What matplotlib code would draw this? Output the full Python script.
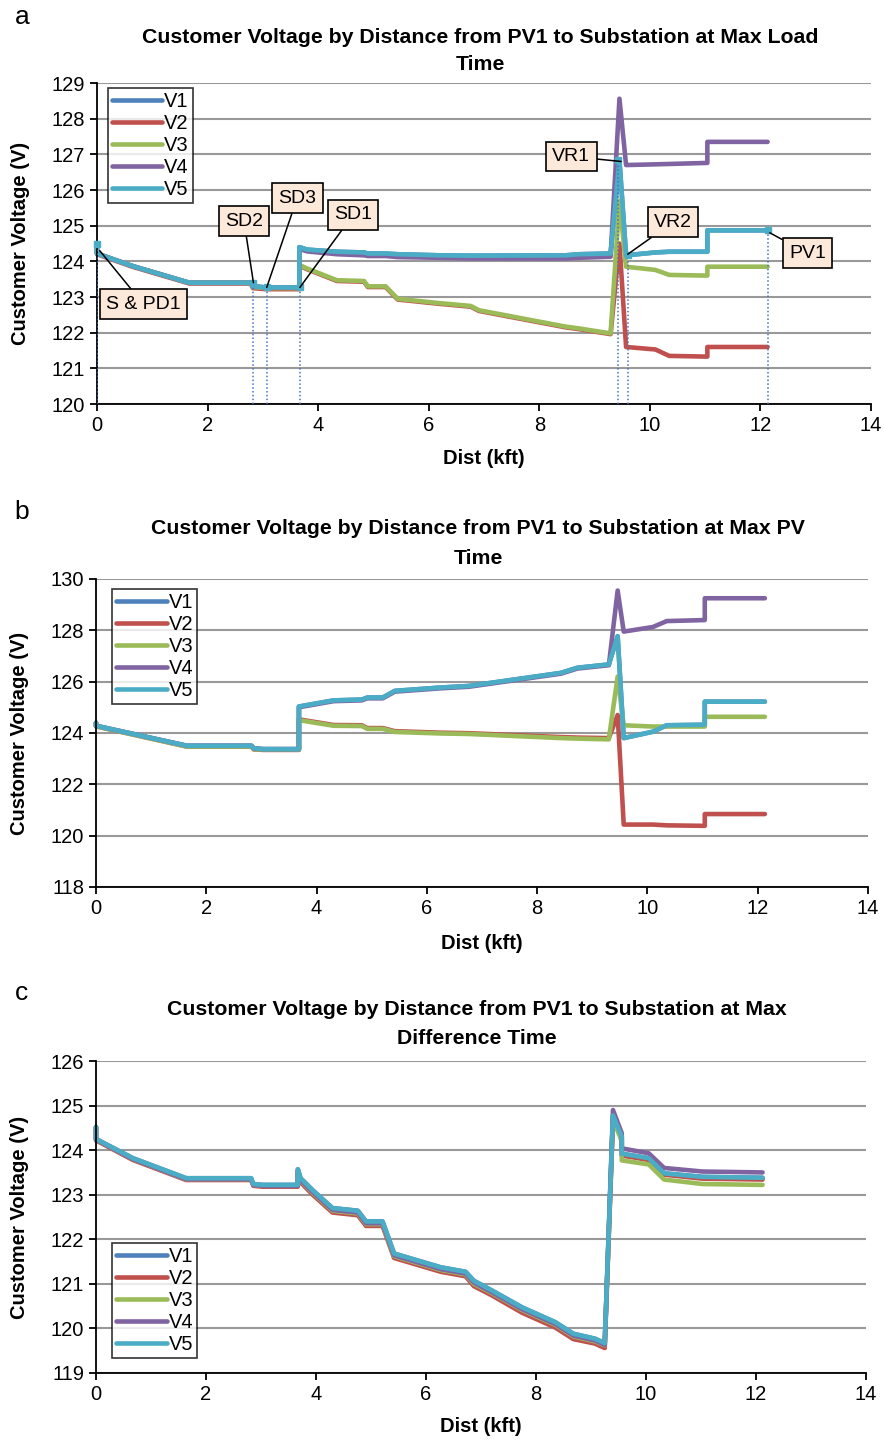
import matplotlib
matplotlib.use("Agg")
import matplotlib.pyplot as plt

plt.rcParams["font.family"] = ["Liberation Sans", "DejaVu Sans"]

SERIES = ["V1", "V2", "V3", "V4", "V5"]
COLORS = ["#4F81BD", "#C0504D", "#9BBB59", "#8064A2", "#4BACC6"]

# --- panel a: max load time ---
xa = [0, 0, 0.64, 1.67, 2.78, 2.82, 3.05, 3.66, 3.66, 3.8, 4.34, 4.83, 4.9, 5.22,
      5.44, 6.19, 6.76, 6.91, 8.48, 8.72, 9.29, 9.45, 9.57, 10.1, 10.35, 11.04, 11.04, 12.13]
v1_a = [124.5, 124.22, 123.87, 123.4, 123.4, 123.3, 123.27, 123.27, 124.4, 124.33, 124.27, 124.25,
        124.22, 124.22, 124.2, 124.17, 124.16, 124.16, 124.17, 124.2, 124.22, 126.83, 124.17,
        124.25, 124.27, 124.27, 124.87, 124.87]
v2_a = [124.5, 124.2, 123.85, 123.38, 123.38, 123.25, 123.22, 123.22, 123.88, 123.78, 123.45, 123.43,
        123.28, 123.28, 122.93, 122.81, 122.73, 122.61, 122.15, 122.1, 121.96, 124.5, 121.6,
        121.53, 121.35, 121.33, 121.6, 121.6]
v3_a = [124.5, 124.22, 123.87, 123.4, 123.4, 123.28, 123.25, 123.25, 123.9, 123.8, 123.47, 123.45,
        123.3, 123.3, 122.95, 122.83, 122.75, 122.63, 122.17, 122.12, 121.98, 125.7, 123.85,
        123.76, 123.62, 123.6, 123.85, 123.85]
v4_a = [124.5, 124.22, 123.87, 123.4, 123.4, 123.3, 123.27, 123.27, 124.35, 124.28, 124.2, 124.17,
        124.15, 124.15, 124.12, 124.1, 124.08, 124.08, 124.08, 124.1, 124.13, 128.56, 126.7,
        126.72, 126.73, 126.76, 127.35, 127.35]
v5_a = [124.5, 124.22, 123.87, 123.4, 123.4, 123.3, 123.27, 123.27, 124.4, 124.33, 124.27, 124.25,
        124.22, 124.22, 124.2, 124.17, 124.16, 124.16, 124.17, 124.2, 124.22, 126.83, 124.17,
        124.25, 124.27, 124.27, 124.87, 124.87]

# device locations marked in panel a
drop_x = [0, 2.83, 3.07, 3.67, 9.43, 9.6, 12.13]
drop_y = [124.5, 123.4, 123.27, 123.27, 126.83, 124.17, 124.87]
ann_labels = ["S & PD1", "SD2", "SD3", "SD1", "VR1", "VR2", "PV1"]
ann_point_x = [0.05, 2.83, 3.07, 3.67, 9.48, 9.6, 12.17]
ann_point_y = [124.3, 123.4, 123.27, 123.27, 126.8, 124.2, 124.8]
ann_text_x = [0.84, 2.66, 3.62, 4.63, 8.58, 10.42, 12.85]
ann_text_y = [122.8, 125.12, 125.77, 125.3, 126.94, 125.1, 124.23]

# --- panel b: max PV time ---
xb = [0, 0, 1.65, 2.82, 2.86, 3.03, 3.68, 3.68, 4.31, 4.82, 4.92, 5.2, 5.42, 6.25, 6.76,
      8.43, 8.73, 9.3, 9.46, 9.57, 10.1, 10.35, 11.04, 11.04, 12.13]
v1_b = [124.4, 124.28, 123.5, 123.5, 123.4, 123.37, 123.37, 125.03, 125.27, 125.3, 125.38, 125.38,
        125.64, 125.77, 125.83, 126.34, 126.54, 126.67, 127.77, 123.8, 124.05, 124.3, 124.32,
        125.22, 125.22]
v2_b = [124.4, 124.26, 123.47, 123.47, 123.36, 123.34, 123.34, 124.53, 124.31, 124.3, 124.19, 124.19,
        124.07, 124.01, 123.99, 123.84, 123.82, 123.8, 124.7, 120.43, 120.43, 120.4, 120.38,
        120.84, 120.84]
v3_b = [124.4, 124.26, 123.47, 123.47, 123.37, 123.35, 123.35, 124.5, 124.28, 124.27, 124.16, 124.16,
        124.04, 123.98, 123.96, 123.8, 123.78, 123.75, 126.2, 124.3, 124.25, 124.25, 124.25,
        124.63, 124.63]
v4_b = [124.4, 124.28, 123.5, 123.5, 123.4, 123.37, 123.37, 125.0, 125.24, 125.27, 125.35, 125.35,
        125.61, 125.74, 125.8, 126.31, 126.51, 126.64, 129.55, 127.95, 128.13, 128.36, 128.4,
        129.25, 129.25]
v5_b = [124.4, 124.28, 123.5, 123.5, 123.4, 123.37, 123.37, 125.03, 125.27, 125.3, 125.38, 125.38,
        125.64, 125.77, 125.83, 126.34, 126.54, 126.67, 127.77, 123.8, 124.05, 124.3, 124.32,
        125.22, 125.22]

# --- panel c: max difference time ---
xc = [0, 0, 0.67, 1.64, 2.82, 2.86, 3.03, 3.67, 3.67, 3.72, 3.94, 4.3, 4.76, 4.91, 5.21, 5.42,
      6.27, 6.72, 6.87, 7.2, 7.75, 8.35, 8.68, 9.07, 9.25, 9.4, 9.56, 9.56, 10.05, 10.33, 11.03, 12.12]
v1_c = [124.52, 124.25, 123.82, 123.37, 123.37, 123.24, 123.22, 123.22, 123.57, 123.37, 123.1, 122.7,
        122.64, 122.4, 122.4, 121.68, 121.37, 121.27, 121.07, 120.85, 120.47, 120.14, 119.88,
        119.77, 119.67, 124.78, 124.3, 123.92, 123.82, 123.48, 123.4, 123.38]
v2_c = [124.5, 124.22, 123.78, 123.33, 123.33, 123.2, 123.18, 123.18, 123.48, 123.28, 123.0, 122.6,
        122.54, 122.3, 122.3, 121.58, 121.27, 121.17, 120.95, 120.74, 120.35, 120.02, 119.76,
        119.66, 119.56, 124.7, 124.25, 123.88, 123.78, 123.45, 123.36, 123.34]
v3_c = [124.52, 124.24, 123.8, 123.35, 123.35, 123.22, 123.2, 123.2, 123.52, 123.32, 123.04, 122.64,
        122.58, 122.34, 122.34, 121.62, 121.31, 121.21, 121.0, 120.79, 120.41, 120.08, 119.82,
        119.71, 119.62, 124.7, 124.2, 123.77, 123.68, 123.34, 123.24, 123.22]
v4_c = [124.52, 124.24, 123.8, 123.35, 123.35, 123.22, 123.2, 123.2, 123.53, 123.33, 123.06, 122.66,
        122.6, 122.36, 122.36, 121.64, 121.33, 121.23, 121.03, 120.81, 120.43, 120.1, 119.84,
        119.73, 119.63, 124.9, 124.38, 124.04, 123.93, 123.6, 123.52, 123.5]
v5_c = [124.52, 124.25, 123.82, 123.37, 123.37, 123.24, 123.22, 123.22, 123.57, 123.37, 123.1, 122.7,
        122.64, 122.4, 122.4, 121.68, 121.37, 121.27, 121.07, 120.85, 120.47, 120.14, 119.88,
        119.77, 119.67, 124.78, 124.3, 123.92, 123.82, 123.48, 123.4, 123.38]

TITLES = [
    "Customer Voltage by Distance from PV1 to Substation at Max Load\nTime",
    "Customer Voltage by Distance from PV1 to Substation at Max PV\nTime",
    "Customer Voltage by Distance from PV1 to Substation at Max\nDifference Time",
]


def draw_panel(ax, x, values, ylim, ystep, title, title_pad, linespacing):
    for name, color, y in zip(SERIES, COLORS, values):
        ax.plot(x, y, color=color, lw=3.3, label=name, clip_on=False,
                solid_capstyle="round", solid_joinstyle="round")
    ax.set_xlim(0, 14)
    ax.set_ylim(*ylim)
    ax.set_xticks(range(0, 15, 2))
    ax.set_yticks(range(ylim[0], ylim[1] + 1, ystep))
    ax.yaxis.grid(True, color="#999999", lw=1.5)
    ax.set_axisbelow(True)
    for side in ("top", "right"):
        ax.spines[side].set_visible(False)
    for side in ("left", "bottom"):
        ax.spines[side].set_linewidth(1.3)
    ax.tick_params(labelsize=14.5, length=5, width=1.3, direction="out")
    ax.set_xlabel("Dist (kft)", fontsize=14.5, fontweight="bold")
    ax.set_ylabel("Customer Voltage (V)", fontsize=14.5, fontweight="bold")
    ax.yaxis.set_label_coords(-0.087, 0.5)
    ax.set_title(title, fontsize=15.3, fontweight="bold", pad=title_pad,
                 linespacing=linespacing, x=0.495)


def legend(ax, loc, anchor):
    leg = ax.legend(loc=loc, bbox_to_anchor=anchor, fontsize=14.5, frameon=True,
                    fancybox=False, borderaxespad=0, borderpad=0.2, labelspacing=0.15,
                    handlelength=2.5, handletextpad=0.1)
    leg.get_frame().set_edgecolor("black")
    leg.get_frame().set_linewidth(1.2)


def main():
    fig = plt.figure(figsize=(8.84, 14.41), dpi=100)
    ax_a = fig.add_axes([0.1097, 0.7196, 0.8756, 0.2228])
    ax_b = fig.add_axes([0.1086, 0.3845, 0.8733, 0.2137])
    ax_c = fig.add_axes([0.1086, 0.0472, 0.8710, 0.2165])

    draw_panel(ax_a, xa, [v1_a, v2_a, v3_a, v4_a, v5_a], (120, 129), 1, TITLES[0], 9.5, 1.5)
    draw_panel(ax_b, xb, [v1_b, v2_b, v3_b, v4_b, v5_b], (118, 130), 2, TITLES[1], 11, 1.7)
    draw_panel(ax_c, xc, [v1_c, v2_c, v3_c, v4_c, v5_c], (119, 126), 1, TITLES[2], 12.5, 1.65)

    ax_a.xaxis.set_label_coords(0.5, -0.14)
    ax_b.xaxis.set_label_coords(0.5, -0.152)
    ax_c.xaxis.set_label_coords(0.5, -0.14)

    legend(ax_a, "upper left", (0.014, 0.984))
    legend(ax_b, "upper left", (0.021, 0.968))
    legend(ax_c, "lower left", (0.021, 0.048))

    # device markers, drop lines and callouts on panel a
    ax_a.vlines(drop_x, 120, drop_y, colors="#4472C4", linestyles=(0, (1, 1.5)), lw=1.1, zorder=4)
    ax_a.plot(drop_x, drop_y, "s", color=COLORS[4], ms=5, zorder=5, clip_on=False)
    for lab, px, py, tx, ty in zip(ann_labels, ann_point_x, ann_point_y, ann_text_x, ann_text_y):
        ax_a.annotate(lab, xy=(px, py), xytext=(tx, ty), ha="center", va="center",
                      fontsize=14, zorder=6,
                      bbox=dict(boxstyle="square,pad=0.33", fc="#FDE9D9", ec="black", lw=1.2),
                      arrowprops=dict(arrowstyle="-", color="black", lw=1.1,
                                      shrinkA=0, shrinkB=0))

    for letter, ypix in zip(["a", "b", "c"], [17, 512, 993]):
        fig.text(22 / 884, 1 - ypix / 1441, letter, fontsize=19, ha="center", va="center")

    fig.savefig("out.png", dpi=100)
    plt.close(fig)


if __name__ == "__main__":
    main()
